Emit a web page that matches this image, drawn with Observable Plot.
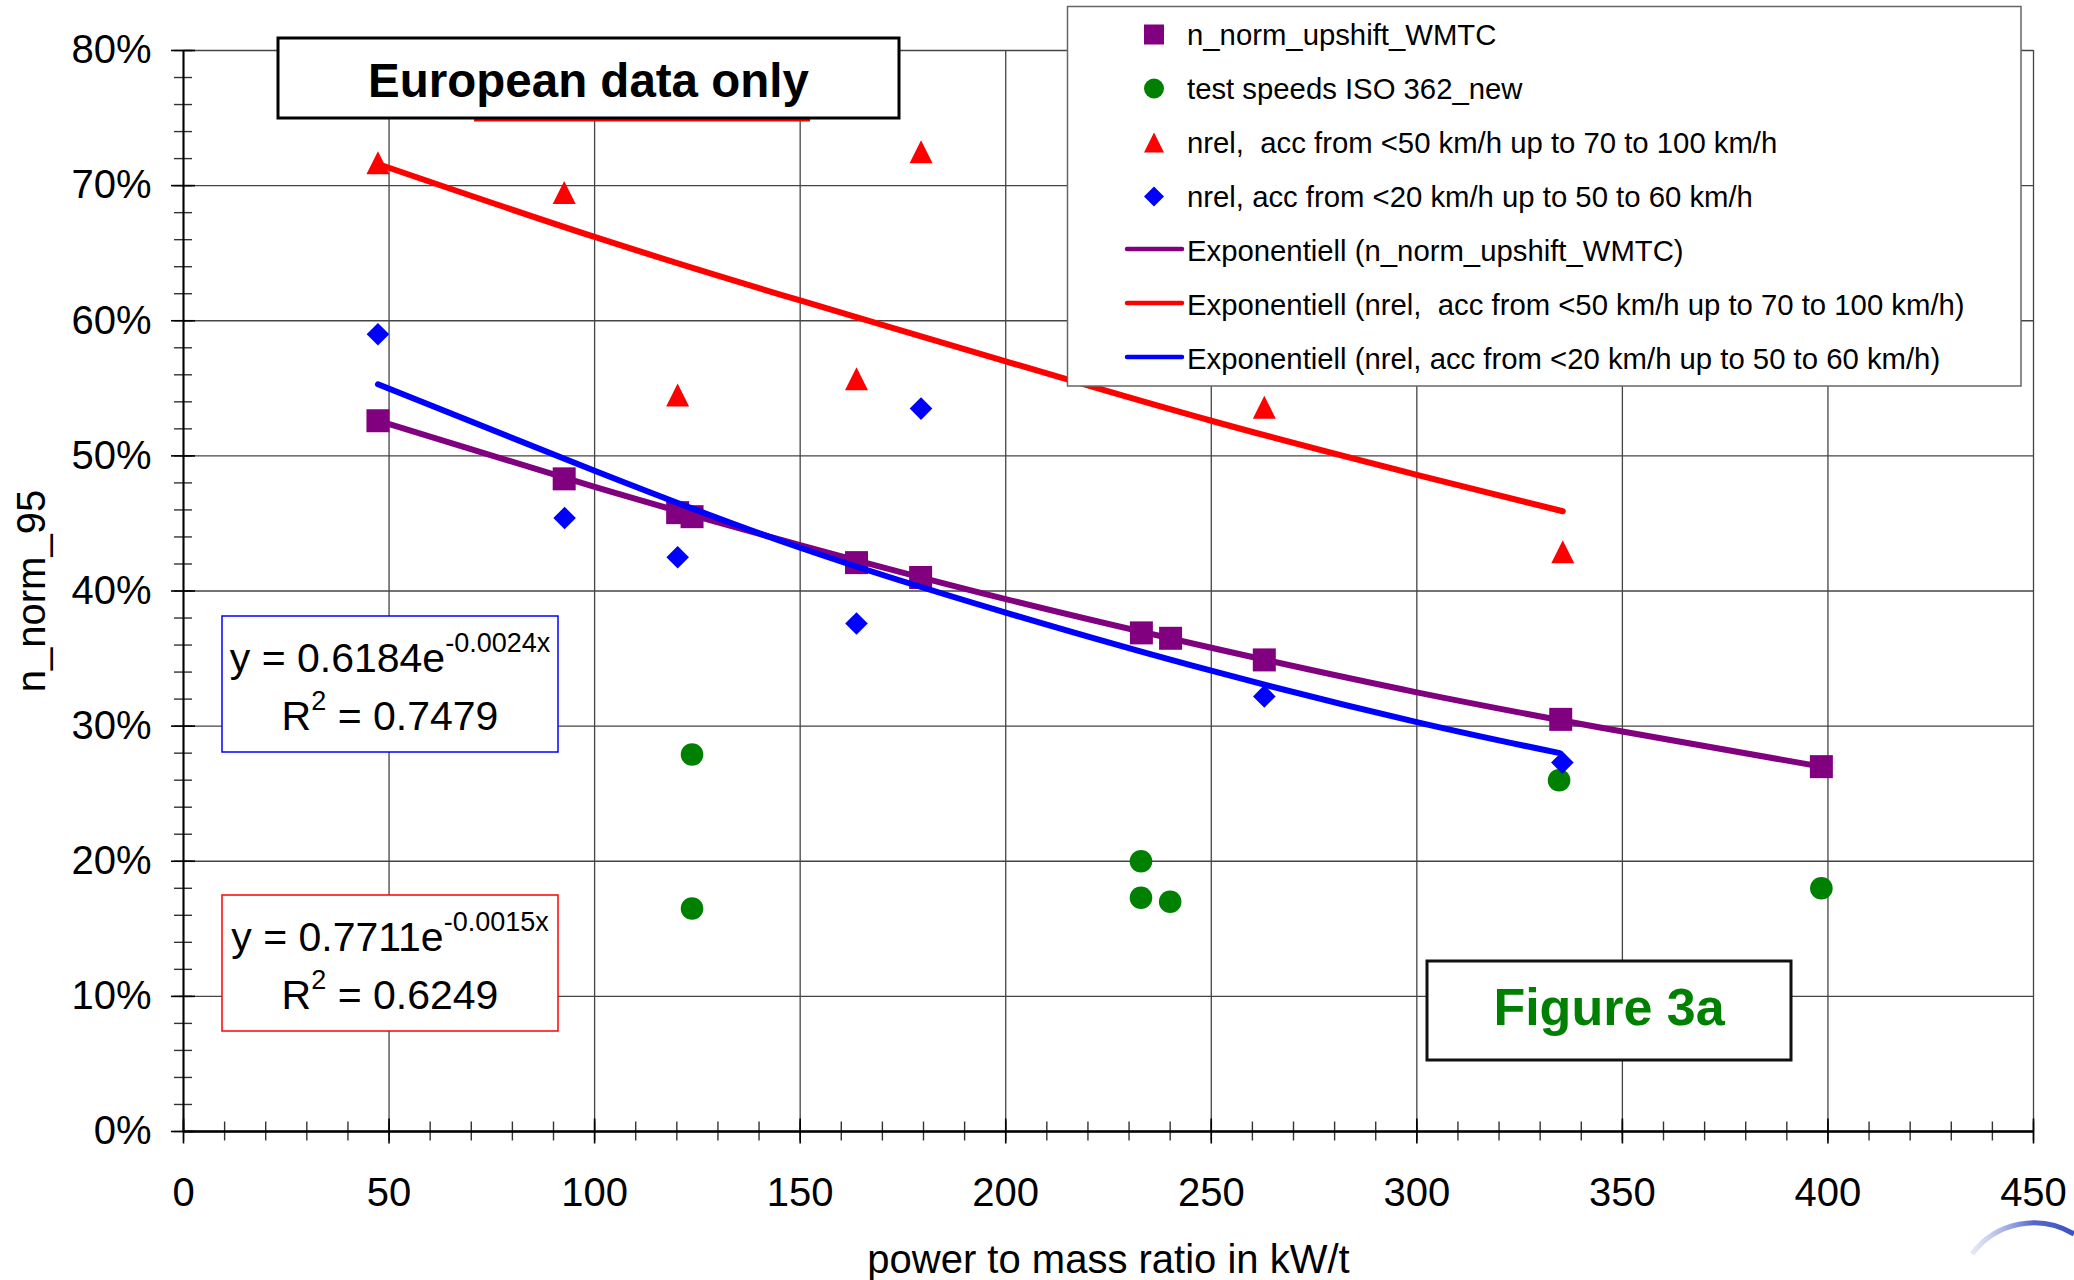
<!DOCTYPE html>
<html>
<head>
<meta charset="utf-8">
<script src="https://cdn.jsdelivr.net/npm/d3@7"></script>
<script src="https://cdn.jsdelivr.net/npm/@observablehq/plot@0.6"></script>
<style>
  html, body { margin: 0; padding: 0; background: white; }
  #chart svg { display: block; }
</style>
</head>
<body>
<div id="chart"></div>
<script>
// ---------- axis ticks ----------
const xTicks = [0, 50, 100, 150, 200, 250, 300, 350, 400, 450];
const xMinor = d3.range(0, 451, 10);
const yTicks = [0, 10, 20, 30, 40, 50, 60, 70, 80];
const yMinor = d3.range(0, 81, 2);
const xTitle = "power to mass ratio in kW/t";
const yTitle = "n_norm_95";

// ---------- series (x: kW/t, y: %) ----------
const seriesNames = [
  "n_norm_upshift_WMTC",
  "test speeds ISO 362_new",
  "nrel,  acc from <50 km/h up to 70 to 100 km/h",
  "nrel, acc from <20 km/h up to 50 to 60 km/h"
];
const trendNames = [
  "Exponentiell (n_norm_upshift_WMTC)",
  "Exponentiell (nrel,  acc from <50 km/h up to 70 to 100 km/h)",
  "Exponentiell (nrel, acc from <20 km/h up to 50 to 60 km/h)"
];

const wmtcX = [47.3, 92.6, 120.2, 123.7, 163.7, 179.3, 233.0, 240.1, 262.9, 335.0, 398.4];
const wmtcY = [52.6, 48.3, 45.8, 45.5, 42.1, 41.0, 36.9, 36.5, 34.9, 30.5, 27.0];

const isoX = [123.7, 123.7, 232.9, 232.9, 240.0, 334.6, 398.4];
const isoY = [27.9, 16.5, 20.0, 17.3, 17.0, 26.0, 18.0];

const acc50X = [47.3, 92.6, 120.2, 163.7, 179.4, 262.9, 335.5];
const acc50Y = [71.7, 69.5, 54.5, 55.7, 72.5, 53.6, 42.9];

const acc20X = [47.3, 92.7, 120.2, 163.7, 179.4, 262.9, 335.4];
const acc20Y = [59.0, 45.4, 42.5, 37.6, 53.5, 32.2, 27.3];

// trend lines
const trendWmtcX = [47.3, 100, 150, 200, 250, 300, 350, 398.4];
const trendWmtcY = [52.6, 47.7, 43.4, 39.4, 35.8, 32.5, 29.6, 27.0];
const trendAcc50X = [47.3, 100, 150, 200, 250, 300, 335.5];
const trendAcc50Y = [71.6, 66.2, 61.5, 57.0, 52.6, 48.6, 45.9];
const trendAcc20X = [47.3, 100, 150, 200, 250, 300, 334.8];
const trendAcc20Y = [55.3, 48.9, 43.2, 38.4, 34.1, 30.3, 28.0];

// equation labels
const eqCoef = ["0.6184", "0.7711"];
const eqExp = ["-0.0024x", "-0.0015x"];
const eqR2 = ["0.7479", "0.6249"];
const boxTitle = "European data only";
const figLabel = "Figure 3a";

// ---------- styles ----------
const purple = "#800080", green = "#008000", red = "#ff0000", blue = "#0000ff";
const font = "'Liberation Sans', Arial, Helvetica, sans-serif";

const zip = (xs, ys) => xs.map((x, i) => ({x, y: ys[i]}));
const wmtc = zip(wmtcX, wmtcY);
const iso = zip(isoX, isoY);
const acc50 = zip(acc50X, acc50Y);
const acc20 = zip(acc20X, acc20Y);
const tWmtc = zip(trendWmtcX, trendWmtcY);
const tAcc50 = zip(trendAcc50X, trendAcc50Y);
const tAcc20 = zip(trendAcc20X, trendAcc20Y);

// custom symbols (bounding-box centred, like the spreadsheet markers)
const rad = size => Math.sqrt(size / Math.PI);
const squareSym = {draw(c, s) { const r = rad(s); c.moveTo(-r, -r); c.lineTo(r, -r); c.lineTo(r, r); c.lineTo(-r, r); c.closePath(); }};
const triSym = {draw(c, s) { const r = rad(s); c.moveTo(0, -r); c.lineTo(r, r); c.lineTo(-r, r); c.closePath(); }};
const diaSym = {draw(c, s) { const r = rad(s); c.moveTo(0, -r); c.lineTo(r, 0); c.lineTo(0, r); c.lineTo(-r, 0); c.closePath(); }};
const circSym = d3.symbolCircle;

const W = 2074, H = 1280;
const plot = Plot.plot({
  width: W, height: H,
  marginLeft: 183, marginRight: 41, marginTop: 50, marginBottom: 149,
  style: {fontFamily: font, fontSize: "40px", background: "white", color: "black", overflow: "visible"},
  x: {domain: [0, 450]},
  y: {domain: [0, 80]},
  marks: [
    Plot.gridX(xTicks, {stroke: "#444", strokeOpacity: 1, strokeWidth: 1.3}),
    Plot.gridY(yTicks, {stroke: "#444", strokeOpacity: 1, strokeWidth: 1.3}),
    // minor & major ticks crossing the axes
    Plot.axisX({ticks: xMinor, tickSize: 19, dy: -9.5, fill: "none", tickFormat: () => "", label: null, stroke: "#333", strokeWidth: 1.4}),
    Plot.axisX({ticks: xTicks, tickSize: 25, dy: -12.5, fill: "none", tickFormat: () => "", label: null, stroke: "#000", strokeWidth: 1.6}),
    Plot.axisY({ticks: yMinor, tickSize: 18, dx: 9, fill: "none", tickFormat: () => "", label: null, stroke: "#333", strokeWidth: 1.4}),
    Plot.axisY({ticks: yTicks, tickSize: 24, dx: 12, fill: "none", tickFormat: () => "", label: null, stroke: "#000", strokeWidth: 1.6}),
    // tick labels
    Plot.axisX({ticks: xTicks, tickSize: 0, tickPadding: 46, fontSize: 40, label: null, tickFormat: d => String(d)}),
    Plot.axisY({ticks: yTicks, tickSize: 0, tickPadding: 32, fontSize: 40, label: null, tickFormat: d => d + "%"}),
    // axis lines
    Plot.ruleX([0], {stroke: "black", strokeWidth: 2}),
    Plot.ruleY([0], {stroke: "black", strokeWidth: 2.5}),
    // axis titles
    Plot.text([xTitle], {frameAnchor: "bottom", textAnchor: "middle", dy: 141, fontSize: 40, fill: "black"}),
    Plot.text([yTitle], {frameAnchor: "left", textAnchor: "middle", dx: -151, rotate: -90, fontSize: 40, fill: "black"}),
    // markers
    Plot.dot(iso, {x: "x", y: "y", symbol: circSym, r: 11.3, fill: green}),
    Plot.dot(acc50, {x: "x", y: "y", symbol: triSym, r: 11.5, fill: red}),
    Plot.dot(acc20, {x: "x", y: "y", symbol: diaSym, r: 11.3, fill: blue}),
    Plot.dot(wmtc, {x: "x", y: "y", symbol: squareSym, r: 11.5, fill: purple}),
    // trend lines
    Plot.line(tWmtc, {x: "x", y: "y", stroke: purple, strokeWidth: 6, curve: "natural", strokeLinecap: "round"}),
    Plot.line(tAcc50, {x: "x", y: "y", stroke: red, strokeWidth: 6, curve: "natural", strokeLinecap: "round"}),
    Plot.line(tAcc20, {x: "x", y: "y", stroke: blue, strokeWidth: 6, curve: "natural", strokeLinecap: "round"})
  ]
});
document.getElementById("chart").appendChild(plot);

// ---------- annotations drawn on top ----------
const svg = d3.select(plot);
const g = svg.append("g").attr("font-family", font).attr("text-anchor", "start");

// "European data only" box with red underline peeking out
g.append("line").attr("x1", 474).attr("x2", 810).attr("y1", 120).attr("y2", 120)
  .attr("stroke", red).attr("stroke-width", 3);
g.append("rect").attr("x", 278).attr("y", 38).attr("width", 621).attr("height", 80)
  .attr("fill", "white").attr("stroke", "black").attr("stroke-width", 3);
g.append("text").attr("x", 588.5).attr("y", 97).attr("text-anchor", "middle")
  .attr("font-size", 47.5).attr("font-weight", "bold").attr("fill", "black").text(boxTitle);

// legend
const leg = g.append("g");
leg.append("rect").attr("x", 1067.5).attr("y", 6.5).attr("width", 953.5).attr("height", 379.5)
  .attr("fill", "white").attr("stroke", "#666").attr("stroke-width", 1.5);
const legSyms = [[squareSym, purple], [circSym, green], [triSym, red], [diaSym, blue]];
const rowBase = i => 45 + 54 * i;
seriesNames.forEach((name, i) => {
  const [sym, col] = legSyms[i];
  leg.append("path").attr("d", d3.symbol(sym, Math.PI * 10 * 10)())
    .attr("transform", `translate(1154,${rowBase(i) - 10.5})`).attr("fill", col);
  leg.append("text").attr("x", 1187).attr("y", rowBase(i)).attr("font-size", 29.3)
    .attr("text-anchor", "start").style("white-space", "pre").attr("fill", "black").text(name);
});
const trendCols = [purple, red, blue];
trendNames.forEach((name, j) => {
  const i = j + 4;
  leg.append("line").attr("x1", 1127).attr("x2", 1182).attr("y1", rowBase(i) - 12).attr("y2", rowBase(i) - 12)
    .attr("stroke", trendCols[j]).attr("stroke-width", 4.5).attr("stroke-linecap", "round");
  leg.append("text").attr("x", 1187).attr("y", rowBase(i)).attr("font-size", 29.3)
    .attr("text-anchor", "start").style("white-space", "pre").attr("fill", "black").text(name);
});

// equation boxes
const eqCols = [blue, red];
[616, 895].forEach((top, k) => {
  g.append("rect").attr("x", 222).attr("y", top).attr("width", 336).attr("height", 136)
    .attr("fill", "white").attr("stroke", eqCols[k]).attr("stroke-width", 1.5);
  const t1 = g.append("text").attr("x", 390).attr("y", top + 56).attr("text-anchor", "middle")
    .attr("font-size", 41).attr("fill", "black");
  t1.append("tspan").text(`y = ${eqCoef[k]}e`);
  t1.append("tspan").attr("font-size", 27).attr("dy", -20).text(eqExp[k]);
  const t2 = g.append("text").attr("x", 390).attr("y", top + 114).attr("text-anchor", "middle")
    .attr("font-size", 41).attr("fill", "black").style("white-space", "pre");
  t2.append("tspan").text("R");
  t2.append("tspan").attr("font-size", 27).attr("dy", -20).text("2");
  t2.append("tspan").attr("dy", 20).text(` = ${eqR2[k]}`);
});

// Figure label
g.append("rect").attr("x", 1427).attr("y", 961).attr("width", 364).attr("height", 99)
  .attr("fill", "white").attr("stroke", "#111").attr("stroke-width", 3);
g.append("text").attr("x", 1609).attr("y", 1025).attr("text-anchor", "middle")
  .attr("font-size", 52).attr("font-weight", "bold").attr("fill", green).text(figLabel);

// partial logo arc in the corner
const defs = svg.append("defs");
const grad = defs.append("linearGradient").attr("id", "arcGrad").attr("x1", "0").attr("x2", "1").attr("y1", "0").attr("y2", "0");
grad.append("stop").attr("offset", "0%").attr("stop-color", "#aab4e8").attr("stop-opacity", 0.3);
grad.append("stop").attr("offset", "60%").attr("stop-color", "#5568cc");
grad.append("stop").attr("offset", "100%").attr("stop-color", "#3d52c4");
g.append("path").attr("d", "M1972,1254 A77,77 0 0,1 2074,1234")
  .attr("fill", "none").attr("stroke", "url(#arcGrad)").attr("stroke-width", 5);
</script>
</body>
</html>
